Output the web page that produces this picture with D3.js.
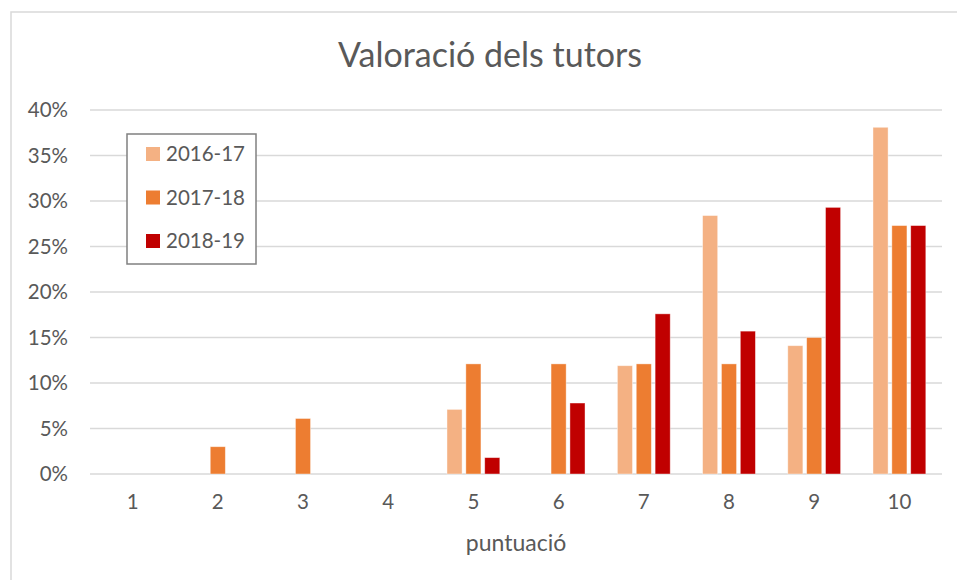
<!DOCTYPE html>
<html>
<head>
<meta charset="utf-8">
<script src="https://cdn.jsdelivr.net/npm/d3@7"></script>
<style>
  body { margin: 0; background: #fff; }
  text { font-family: Lato, "Open Sans", sans-serif; fill: #595959; }
</style>
</head>
<body>
<div id="chart"></div>
<script>
// data (share of answers per score, %)
var scores = ["1", "2", "3", "4", "5", "6", "7", "8", "9", "10"];
var years = ["2016-17", "2017-18", "2018-19"];
var v1617 = [0, 0, 0, 0, 7.1, 0, 11.9, 28.4, 14.1, 38.1];
var v1718 = [0, 3.0, 6.1, 0, 12.1, 12.1, 12.1, 12.1, 15.0, 27.3];
var v1819 = [0, 0, 0, 0, 1.8, 7.8, 17.6, 15.7, 29.3, 27.3];
var yTicks = [0, 5, 10, 15, 20, 25, 30, 35, 40];
var colors = ["#F4B183", "#ED7D31", "#C00000"];

var series = [v1617, v1718, v1819];

var W = 957, H = 580;
var margin = {top: 110, right: 15, bottom: 106, left: 90};

var svg = d3.select("#chart")
  .append("svg")
    .attr("width", W)
    .attr("height", H);

// chart frame
svg.append("rect")
  .attr("x", 11).attr("y", 12)
  .attr("width", W + 20).attr("height", H + 20)
  .attr("fill", "none")
  .attr("stroke", "#d9d9d9")
  .attr("stroke-width", 1.5);

var x0 = d3.scaleBand()
  .domain(scores)
  .range([margin.left, W - margin.right])
  .paddingInner(0.38)
  .paddingOuter(0.19);

var x1 = d3.scaleBand()
  .domain(years)
  .range([0, x0.bandwidth()])
  .paddingInner(0.2);

var y = d3.scaleLinear()
  .domain([0, 40])
  .range([H - margin.bottom, margin.top]);

// gridlines
svg.append("g")
  .selectAll("line")
  .data(yTicks)
  .enter()
  .append("line")
    .attr("x1", margin.left)
    .attr("x2", W - margin.right)
    .attr("y1", function (d) { return y(d); })
    .attr("y2", function (d) { return y(d); })
    .attr("stroke", "#d9d9d9")
    .attr("stroke-width", 1.5);

// y axis labels
var yAxis = svg.append("g")
  .attr("transform", "translate(" + (margin.left - 22) + ",0)")
  .call(d3.axisLeft(y).tickValues(yTicks).tickSize(0).tickFormat(function (d) { return d + "%"; }));
yAxis.select(".domain").remove();
yAxis.selectAll("text")
  .attr("x", 0)
  .style("font-size", "20.5px")
  .style("font-family", "Lato, sans-serif")
  .attr("fill", "#595959");

// x axis labels
var xAxis = svg.append("g")
  .attr("transform", "translate(0," + (H - margin.bottom) + ")")
  .call(d3.axisBottom(x0).tickSize(0).tickPadding(20));
xAxis.select(".domain").remove();
xAxis.selectAll("text")
  .style("font-size", "20.5px")
  .style("font-family", "Lato, sans-serif")
  .attr("fill", "#595959");

// bars, one group per year
series.forEach(function (vals, i) {
  var rows = scores.map(function (s, j) { return {s: s, v: vals[j]}; })
    .filter(function (d) { return d.v > 0; });
  svg.append("g")
    .selectAll("rect")
    .data(rows)
    .enter()
    .append("rect")
      .attr("x", function (d) { return x0(d.s) + x1(years[i]); })
      .attr("y", function (d) { return y(d.v); })
      .attr("width", x1.bandwidth())
      .attr("height", function (d) { return y(0) - y(d.v); })
      .attr("fill", colors[i])
      .attr("stroke", "#fff")
      .attr("stroke-opacity", 0.5)
      .attr("stroke-width", 0.8);
});

// title
svg.append("text")
  .attr("x", 490)
  .attr("y", 67)
  .attr("text-anchor", "middle")
  .style("font-size", "34px")
  .text("Valoració dels tutors");

// x axis title
svg.append("text")
  .attr("x", (margin.left + W - margin.right) / 2)
  .attr("y", 551)
  .attr("text-anchor", "middle")
  .style("font-size", "23px")
  .text("puntuació");

// legend
var legend = svg.append("g");
legend.append("rect")
  .attr("x", 127).attr("y", 134)
  .attr("width", 129).attr("height", 130)
  .attr("fill", "#fff")
  .attr("stroke", "#808080")
  .attr("stroke-width", 1.5);

var items = legend.selectAll("g.item")
  .data(years)
  .enter()
  .append("g")
    .attr("class", "item")
    .attr("transform", function (d, i) { return "translate(146," + (154 + i * 43.5) + ")"; });
items.append("rect")
  .attr("x", 0).attr("y", -7)
  .attr("width", 14).attr("height", 14)
  .attr("fill", function (d, i) { return colors[i]; });
items.append("text")
  .attr("x", 20)
  .attr("dy", "0.36em")
  .style("font-size", "20.5px")
  .text(function (d) { return d; });
</script>
</body>
</html>
